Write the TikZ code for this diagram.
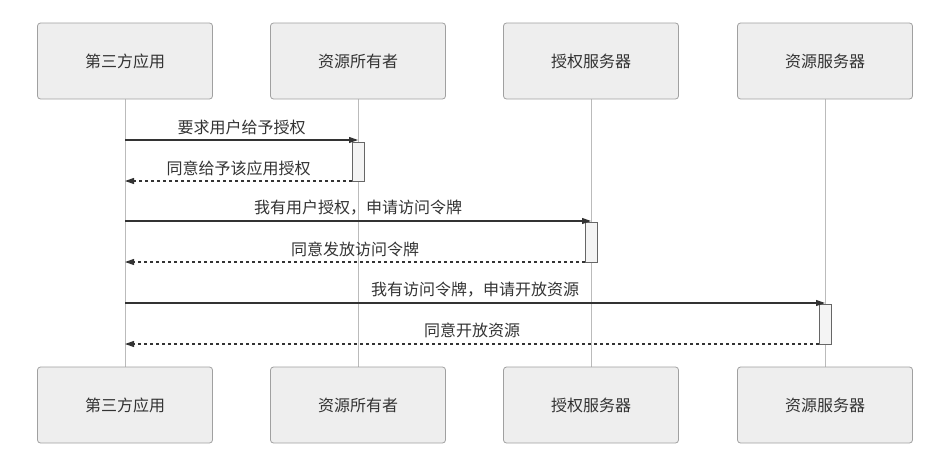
\documentclass[tikz,border=0pt]{standalone}
\usepackage{fontspec}
\setmainfont{Noto Sans CJK SC}
\usetikzlibrary{arrows.meta}
\definecolor{boxfill}{HTML}{EEEEEE}
\definecolor{boxdraw}{HTML}{A0A0A0}
\definecolor{lifec}{HTML}{BBBBBB}
\definecolor{msgc}{HTML}{333333}
\definecolor{actfill}{HTML}{F4F4F4}
\definecolor{actdraw}{HTML}{666666}
\begin{document}
\begin{tikzpicture}[x=1pt,y=-1pt,
  actor/.style={draw=boxdraw,fill=boxfill,rounded corners=3pt,minimum width=175pt,minimum height=76pt,inner sep=0pt,line width=0.8pt,font=\fontsize{16}{19}\selectfont,text=msgc},
  lifeline/.style={draw=lifec,line width=0.8pt},
  act/.style={draw=actdraw,fill=actfill,line width=0.8pt},
  msg/.style={draw=msgc,line width=1.1pt,-{Triangle[length=9pt,width=6pt]}},
  ret/.style={draw=msgc,line width=1.1pt,dash pattern=on 3pt off 3pt,-{Triangle[length=9pt,width=6pt]}},
  lbl/.style={font=\fontsize{16}{19}\selectfont,text=msgc,inner sep=0pt}]
\useasboundingbox (0,0) rectangle (937,458);
% lifelines
\foreach \x/\n in {125/a,358/b,591/c,825/d}{
  \coordinate (\n top) at (\x,99);
  \coordinate (\n bot) at (\x,367);
  \draw[lifeline] (\n top) -- (\n bot);
}
% actors
\node[actor] (A1) at (125,61) {第三方应用};
\node[actor] (B1) at (358,61) {资源所有者};
\node[actor] (C1) at (591,61) {授权服务器};
\node[actor] (D1) at (825,61) {资源服务器};
\node[actor] (A2) at (125,405) {第三方应用};
\node[actor] (B2) at (358,405) {资源所有者};
\node[actor] (C2) at (591,405) {授权服务器};
\node[actor] (D2) at (825,405) {资源服务器};
% activations
\draw[act] (352,142) rectangle (364,181);
\draw[act] (585,222) rectangle (597,262);
\draw[act] (819,304) rectangle (831,344);
% message coordinates
\coordinate (m1s) at (125,140); \coordinate (m1e) at (358,140);
\coordinate (r1s) at (352,181); \coordinate (r1e) at (125,181);
\coordinate (m2s) at (125,221); \coordinate (m2e) at (591,221);
\coordinate (r2s) at (585,262); \coordinate (r2e) at (125,262);
\coordinate (m3s) at (125,303); \coordinate (m3e) at (825,303);
\coordinate (r3s) at (819,344); \coordinate (r3e) at (125,344);
\draw[msg] (m1s) -- (m1e);
\draw[ret] (r1s) -- (r1e);
\draw[msg] (m2s) -- (m2e);
\draw[ret] (r2s) -- (r2e);
\draw[msg] (m3s) -- (m3e);
\draw[ret] (r3s) -- (r3e);
% labels
\node[lbl] (l1) at (241.5,127) {要求用户给予授权};
\node[lbl] (l2) at (238.5,168) {同意给予该应用授权};
\node[lbl] (l3) at (358,208) {我有用户授权，申请访问令牌};
\node[lbl] (l4) at (355,249) {同意发放访问令牌};
\node[lbl] (l5) at (475,290) {我有访问令牌，申请开放资源};
\node[lbl] (l6) at (472,330) {同意开放资源};
\end{tikzpicture}
\end{document}
